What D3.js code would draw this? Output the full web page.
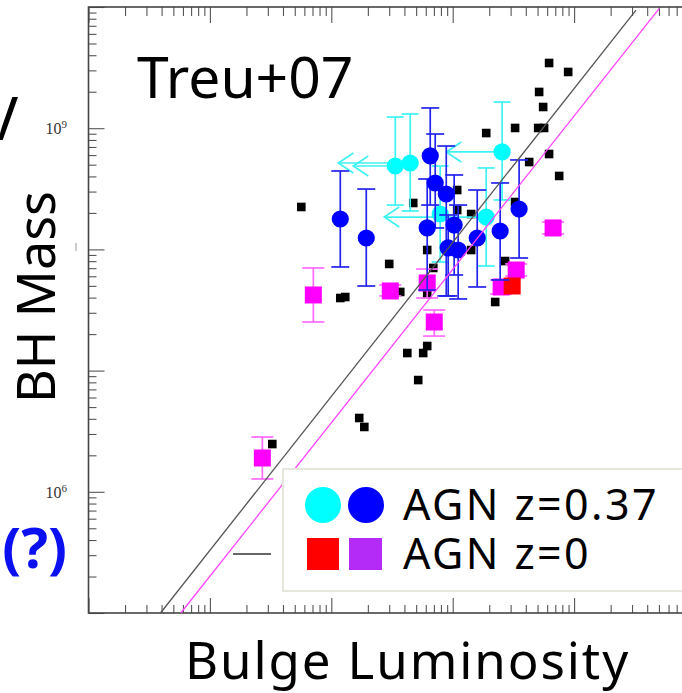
<!DOCTYPE html>
<html>
<head>
<meta charset="utf-8">
<script src="https://cdn.jsdelivr.net/npm/d3@7"></script>
<style>
  html, body { margin: 0; padding: 0; background: #fff; }
  svg { display: block; }
</style>
</head>
<body>
<svg id="chart" width="682" height="693"></svg>
<script>
// ---- data (log10 bulge luminosity, log10 BH mass) ----
// local inactive galaxies
const inactiveLogL = [11.794, 11.951, 11.712, 11.745, 11.514, 11.704, 11.753, 11.276, 11.794, 11.630,
  11.877, 11.037, 10.675, 11.514, 11.037, 11.152, 10.790, 11.152, 11.432, 10.477,
  10.840, 10.568, 10.790, 10.074, 10.115, 11.350, 10.626, 10.757, 10.790, 10.716,
  10.230, 10.272, 9.514, 9.753];
const inactiveLogM = [9.538, 9.464, 9.299, 9.175, 9.002, 9.002, 9.002, 8.960, 8.787, 8.721,
  8.606, 8.490, 8.383, 8.391, 8.325, 8.292, 7.995, 7.995, 7.904, 7.880,
  7.847, 7.649, 7.632, 7.599, 7.607, 7.566, 7.145, 7.145, 7.203, 6.922,
  6.609, 6.535, 6.394, 8.350];

// AGN z=0.37 with measured bulges
const agnHiLogL  = [10.074, 10.288, 10.815, 10.856, 10.947, 10.790, 11.012, 10.963, 11.045, 11.202, 11.391, 11.547];
const agnHiLogM  = [8.251, 8.094, 8.771, 8.548, 8.457, 8.177, 8.201, 8.012, 7.995, 8.094, 8.152, 8.333];
const agnHiMUp   = [8.647, 8.498, 9.167, 8.952, 8.853, 8.581, 8.614, 8.284, 8.366, 8.490, 8.548, 8.738];
const agnHiMLo   = [7.855, 7.698, 8.366, 8.177, 7.616, 7.665, 7.789, 7.616, 7.591, 7.690, 7.748, 7.929];

// AGN z=0.37 with luminosity upper limits (arrow points to lower end, null = none)
const agnLimLogL  = [10.527, 10.650, 11.407, 10.897, 11.276];
const agnLimLogM  = [8.688, 8.713, 8.804, 8.292, 8.267];
const agnLimMUp   = [9.092, 9.117, 9.216, 8.688, 8.672];
const agnLimMLo   = [8.366, 8.317, 8.408, 7.896, 7.863];
const agnLimArrow = [10.181, 10.058, 10.947, null, 10.436];

// local AGN
const agnLocLogL = [9.432, 9.852, 10.486, 10.790, 10.848, 11.399, 11.523, 11.827];
const agnLocLogM = [6.279, 7.624, 7.657, 7.723, 7.401, 7.690, 7.830, 8.177];
const agnLocMUp  = [6.452, 7.847, 7.706, 7.838, 7.500, 7.748, 7.880, 8.226];
const agnLocMLo  = [6.106, 7.401, 7.616, 7.599, 7.285, 7.632, 7.781, 8.127];
const agnRedLogL = [11.490];
const agnRedLogM = [7.698];

// fitted relations (end points)
const fitInactiveLogL = [8.593, 12.510];
const fitInactiveLogM = [5.0, 9.975];
const fitAgnLogL = [8.760, 12.702];
const fitAgnLogM = [5.0, 9.989];

// labelled mass decades
const yLabelExp = [9, 6];
const legendLabels = ["AGN z=0.37", "AGN z=0"];

// ---- layout ----
const svg = d3.select("#chart");
const frame = { left: 88.5, right: 695.5, top: 7, bottom: 613 };

const x = d3.scaleLog().domain([1e8, 1e13]).range([frame.left, frame.right]);
const y = d3.scaleLog().domain([1e5, 1e10]).range([frame.bottom, frame.top]);
const px = v => x(Math.pow(10, v));
const py = v => y(Math.pow(10, v));

svg.append("rect").attr("width", 682).attr("height", 693).attr("fill", "#fff");

// ---- axes: ticks inside the frame ----
const isMajor = v => Math.abs(Math.log10(v) - Math.round(Math.log10(v))) < 1e-9;
const xt = x.ticks(), yt = y.ticks();
const xMaj = xt.filter(isMajor), xMin = xt.filter(v => !isMajor(v));
const yMaj = yt.filter(isMajor), yMin = yt.filter(v => !isMajor(v));

function tickGroup(axis, tx, ty) {
  const g = svg.append("g").attr("transform", `translate(${tx},${ty})`).call(axis);
  g.select(".domain").remove();
  g.selectAll(".tick line").attr("stroke", "#555").attr("stroke-width", 1.1);
  g.selectAll(".tick text").remove();
  return g;
}
tickGroup(d3.axisBottom(x).tickValues(xMaj).tickSize(-15).tickFormat(""), 0, frame.bottom);
tickGroup(d3.axisBottom(x).tickValues(xMin).tickSize(-8).tickFormat(""), 0, frame.bottom);
tickGroup(d3.axisTop(x).tickValues(xMaj).tickSize(-16).tickFormat(""), 0, frame.top);
tickGroup(d3.axisTop(x).tickValues(xMin).tickSize(-9).tickFormat(""), 0, frame.top);
tickGroup(d3.axisLeft(y).tickValues(yMaj).tickSize(-16).tickFormat(""), frame.left, 0);
tickGroup(d3.axisLeft(y).tickValues(yMin).tickSize(-8).tickFormat(""), frame.left, 0);

svg.append("rect")
  .attr("x", frame.left).attr("y", frame.top)
  .attr("width", frame.right - frame.left).attr("height", frame.bottom - frame.top)
  .attr("fill", "none").attr("stroke", "#444").attr("stroke-width", 1.6);

// y tick labels, 10^n
const yLab = svg.append("g").selectAll("text").data(yLabelExp).join("text")
  .attr("x", 67).attr("y", d => y(Math.pow(10, d)) + 6)
  .attr("text-anchor", "end")
  .attr("font-family", "'Liberation Serif', 'DejaVu Serif', serif")
  .attr("font-size", 16).attr("fill", "#333");
yLab.append("tspan").text("10");
yLab.append("tspan").attr("dy", -6).attr("font-size", 11).text(d => d);

svg.append("line").attr("x1", 76).attr("x2", 76).attr("y1", 243).attr("y2", 251)
  .attr("stroke", "#999").attr("stroke-width", 1);

// ---- marks ----
const plot = svg.append("g");

// inactive galaxies
plot.append("g").selectAll("rect").data(inactiveLogL).join("rect")
  .attr("x", (d, i) => px(d) - 4.3).attr("y", (d, i) => py(inactiveLogM[i]) - 4.3)
  .attr("width", 8.6).attr("height", 8.6).attr("fill", "#000");

// local AGN error bars + squares
const locIdx = d3.range(agnLocLogL.length);
const locBars = plot.append("g").attr("stroke", "#ff6aff").attr("stroke-width", 1.7);
locBars.selectAll(".v").data(locIdx).join("line")
  .attr("x1", i => px(agnLocLogL[i])).attr("x2", i => px(agnLocLogL[i]))
  .attr("y1", i => py(agnLocMUp[i])).attr("y2", i => py(agnLocMLo[i]));
[agnLocMUp, agnLocMLo].forEach(arr => {
  locBars.append("g").selectAll("line").data(locIdx).join("line")
    .attr("x1", i => px(agnLocLogL[i]) - 11).attr("x2", i => px(agnLocLogL[i]) + 11)
    .attr("y1", i => py(arr[i])).attr("y2", i => py(arr[i]));
});
plot.append("g").selectAll("rect").data(locIdx).join("rect")
  .attr("x", i => px(agnLocLogL[i]) - 8.5).attr("y", i => py(agnLocLogM[i]) - 8.5)
  .attr("width", 17).attr("height", 17).attr("fill", "#ff00ff");
plot.append("g").selectAll("rect").data(agnRedLogL).join("rect")
  .attr("x", (d) => px(d) - 8.5).attr("y", (d, i) => py(agnRedLogM[i]) - 8.5)
  .attr("width", 17).attr("height", 17).attr("fill", "#ff0000");

// z=0.37 upper limits (cyan)
const limIdx = d3.range(agnLimLogL.length);
const limG = plot.append("g").attr("stroke", "#3ff2f2").attr("stroke-width", 1.7).attr("fill", "none");
limG.selectAll(".v").data(limIdx).join("line")
  .attr("x1", i => px(agnLimLogL[i])).attr("x2", i => px(agnLimLogL[i]))
  .attr("y1", i => py(agnLimMUp[i])).attr("y2", i => py(agnLimMLo[i]));
[agnLimMUp, agnLimMLo].forEach(arr => {
  limG.append("g").selectAll("line").data(limIdx).join("line")
    .attr("x1", i => px(agnLimLogL[i]) - 8.5).attr("x2", i => px(agnLimLogL[i]) + 8.5)
    .attr("y1", i => py(arr[i])).attr("y2", i => py(arr[i]));
});
const arrIdx = limIdx.filter(i => agnLimArrow[i] !== null);
limG.append("g").selectAll("line").data(arrIdx).join("line")
  .attr("x1", i => px(agnLimLogL[i])).attr("x2", i => px(agnLimArrow[i]))
  .attr("y1", i => py(agnLimLogM[i])).attr("y2", i => py(agnLimLogM[i]));
limG.append("g").selectAll("path").data(arrIdx).join("path")
  .attr("d", i => {
    const tx = px(agnLimArrow[i]), ty = py(agnLimLogM[i]);
    return `M${tx + 15},${ty - 10}L${tx},${ty}L${tx + 15},${ty + 10}`;
  });
plot.append("g").selectAll("circle").data(limIdx).join("circle")
  .attr("cx", i => px(agnLimLogL[i])).attr("cy", i => py(agnLimLogM[i]))
  .attr("r", 8.6).attr("fill", "#00ffff");

// z=0.37 measured (blue)
const hiIdx = d3.range(agnHiLogL.length);
const hiG = plot.append("g").attr("stroke", "#2323ee").attr("stroke-width", 1.7);
hiG.selectAll(".v").data(hiIdx).join("line")
  .attr("x1", i => px(agnHiLogL[i])).attr("x2", i => px(agnHiLogL[i]))
  .attr("y1", i => py(agnHiMUp[i])).attr("y2", i => py(agnHiMLo[i]));
[agnHiMUp, agnHiMLo].forEach(arr => {
  hiG.append("g").selectAll("line").data(hiIdx).join("line")
    .attr("x1", i => px(agnHiLogL[i]) - 9).attr("x2", i => px(agnHiLogL[i]) + 9)
    .attr("y1", i => py(arr[i])).attr("y2", i => py(arr[i]));
});
plot.append("g").selectAll("circle").data(hiIdx).join("circle")
  .attr("cx", i => px(agnHiLogL[i])).attr("cy", i => py(agnHiLogM[i]))
  .attr("r", 8.6).attr("fill", "#0000ff");

// fitted relations
const fitLine = d3.line().x(d => px(d[0])).y(d => py(d[1]));
plot.append("path").attr("d", fitLine(d3.zip(fitInactiveLogL, fitInactiveLogM)))
  .attr("fill", "none").attr("stroke", "#555").attr("stroke-width", 1.3);
plot.append("path").attr("d", fitLine(d3.zip(fitAgnLogL, fitAgnLogM)))
  .attr("fill", "none").attr("stroke", "#ff44ff").attr("stroke-width", 1.3);

// ---- legend ----
const leg = svg.append("g");
leg.append("rect").attr("x", 283).attr("y", 469).attr("width", 440).attr("height", 122)
  .attr("fill", "#fff").attr("stroke", "#e6e6dc").attr("stroke-width", 2);
leg.append("circle").attr("cx", 323).attr("cy", 505).attr("r", 18).attr("fill", "#00ffff");
leg.append("circle").attr("cx", 366).attr("cy", 505).attr("r", 18).attr("fill", "#0000ff");
leg.append("rect").attr("x", 307).attr("y", 538).attr("width", 32).attr("height", 32).attr("fill", "#ff0000");
leg.append("rect").attr("x", 349).attr("y", 538).attr("width", 33).attr("height", 32).attr("fill", "#b42af6");
leg.selectAll("text.lab").data(legendLabels).join("text")
  .attr("x", 403).attr("y", (d, i) => 520 + i * 49)
  .attr("font-family", "'Noto Sans', sans-serif").attr("font-size", 43)
  .attr("letter-spacing", 2.4).attr("fill", "#000")
  .text(d => d);
svg.append("line").attr("x1", 233).attr("x2", 271).attr("y1", 554).attr("y2", 554)
  .attr("stroke", "#333").attr("stroke-width", 1.5);

// ---- titles ----
svg.append("text").attr("x", 137).attr("y", 98)
  .attr("font-family", "'Noto Sans', sans-serif").attr("font-size", 57).attr("fill", "#000")
  .text("Treu+07");
svg.append("text").attr("x", 185).attr("y", 679)
  .attr("font-family", "'Noto Sans', sans-serif").attr("font-size", 51)
  .attr("letter-spacing", 1.9).attr("fill", "#000")
  .text("Bulge Luminosity");
svg.append("text").attr("transform", "translate(55,297) rotate(-90)").attr("text-anchor", "middle")
  .attr("font-family", "'Noto Sans', sans-serif").attr("font-size", 52).attr("fill", "#000")
  .text("BH Mass");
svg.append("text").attr("x", 67).attr("y", 568).attr("text-anchor", "end")
  .attr("font-family", "'Noto Sans', sans-serif").attr("font-size", 56).attr("font-weight", "bold")
  .attr("fill", "#0a10f0").text("(?)");
svg.append("text").attr("x", 0).attr("y", 140).attr("text-anchor", "middle")
  .attr("font-family", "'Noto Sans', sans-serif").attr("font-size", 60).attr("fill", "#000")
  .text("V");
</script>
</body>
</html>
